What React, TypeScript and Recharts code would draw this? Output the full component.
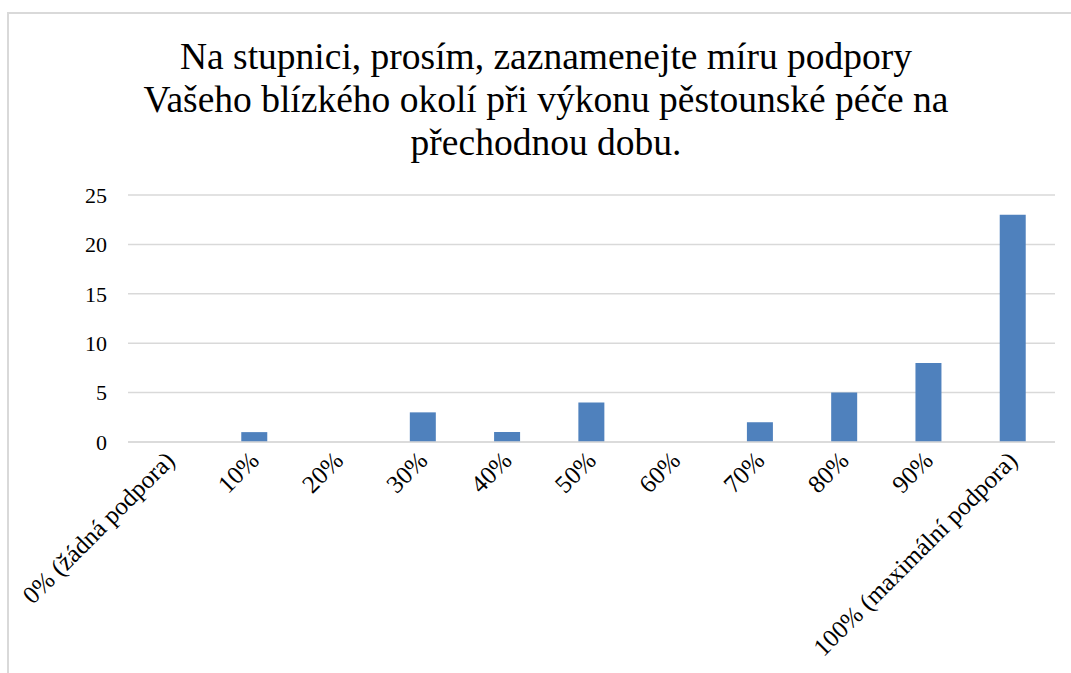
import { BarChart, Bar, XAxis, YAxis, CartesianGrid } from "recharts";

const categories = [
  "0% (žádná podpora)",
  "10%",
  "20%",
  "30%",
  "40%",
  "50%",
  "60%",
  "70%",
  "80%",
  "90%",
  "100% (maximální podpora)",
];
const counts = [0, 1, 0, 3, 1, 4, 0, 2, 5, 8, 23];
const yTicks = [0, 5, 10, 15, 20, 25];
const titleLines = [
  "Na stupnici, prosím, zaznamenejte míru podpory",
  "Vašeho blízkého okolí při výkonu pěstounské péče na",
  "přechodnou dobu.",
];

const data = categories.map((name, i) => ({ name, value: counts[i] }));

const FONT = "Liberation Serif";

function AngledTick(props: any) {
  const { x, y, payload } = props;
  return (
    <g transform={`translate(${x + 6},${y + 12})`}>
      <text
        x={0}
        y={0}
        textAnchor="end"
        transform="rotate(-45)"
        fontFamily={FONT}
        fontSize={25}
        fill="#000"
      >
        {payload.value}
      </text>
    </g>
  );
}

export default function App() {
  return (
    <div
      style={{
        position: "absolute",
        left: 0,
        top: 0,
        width: 1071,
        height: 673,
        background: "#fff",
        overflow: "hidden",
      }}
    >
      <div
        style={{
          position: "absolute",
          left: 7,
          top: 12,
          width: 1100,
          height: 700,
          border: "2px solid #d9d9d9",
        }}
      />
      <div style={{ position: "absolute", left: 0, top: 0 }}>
        <BarChart
          width={1071}
          height={673}
          data={data}
          margin={{ top: 195, right: 16, left: 68, bottom: 31 }}
          barSize={26}
        >
          <CartesianGrid
            vertical={false}
            stroke="#d9d9d9"
            strokeWidth={1.5}
          />
          <XAxis
            dataKey="name"
            interval={0}
            height={200}
            axisLine={{ stroke: "#d9d9d9", strokeWidth: 1.5 }}
            tickLine={false}
            tick={<AngledTick />}
          />
          <YAxis
            width={60}
            domain={[0, 25]}
            ticks={yTicks}
            axisLine={false}
            tickLine={false}
            tickMargin={15}
            tick={{ fontFamily: FONT, fontSize: 22, fill: "#000" }}
          />
          <Bar dataKey="value" fill="#4F81BD" isAnimationActive={false} />
          {titleLines.map((t, i) => (
            <text
              key={t}
              x={546}
              y={69 + i * 43}
              textAnchor="middle"
              fontFamily={FONT}
              fontSize={37.5}
              fill="#000"
            >
              {t}
            </text>
          ))}
        </BarChart>
      </div>
    </div>
  );
}
